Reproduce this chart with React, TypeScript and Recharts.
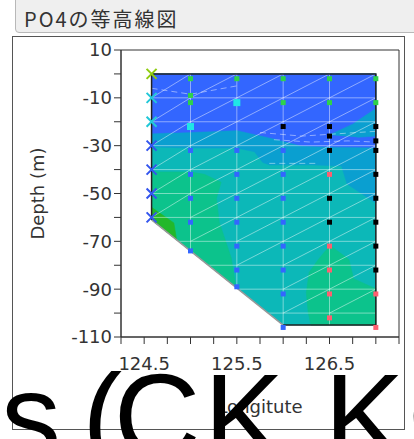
import React from 'react';
import { ScatterChart, Scatter, XAxis, YAxis, ReferenceArea } from 'recharts';

type Pt = { lon: number; depth: number };
const pts = (list: number[][]): Pt[] => list.map(([lon, depth]) => ({ lon, depth }));

// axes
const X_TICKS = [124.25, 124.5, 124.75, 125, 125.25, 125.5, 125.75, 126, 126.25, 126.5, 126.75, 127, 127.25];
const X_LABELED = [124.5, 125.5, 126.5];
const Y_TICKS = [10, 0, -10, -20, -30, -40, -50, -60, -70, -80, -90, -100, -110];
const Y_LABELED = [10, -10, -30, -50, -70, -90, -110];

// section geometry (stations + mesh rows)
const STATION_LON = [124.58, 125.0, 125.5, 126.0, 126.5, 127.0];
const MESH_DEPTHS = [0, -10, -20, -30, -40, -50, -60, -70, -80, -90, -100];
const SLOPE_TOP = [124.58, -61];
const SLOPE_FOOT = [126.0, -105];

const SECTION = pts([[124.58, 0], [127.0, 0], [127.0, -105], [126.0, -105], [124.58, -61], [124.58, 0]]);
const EDGE = pts([[124.58, -61], [124.58, 0], [127.0, 0], [127.0, -105], [126.0, -105]]);
const SLOPE = pts([SLOPE_TOP, SLOPE_FOOT]);

// contour bands
const MID_BLUE_ZONE = pts([
  [124.58, 0], [127.0, 0], [127.0, -54], [126.69, -46], [126.63, -38.5], [126.3, -38], [125.85, -38],
  [125.78, -37], [125.69, -32.5], [125.5, -31], [125.0, -31], [124.58, -30.5],
]);
const BLUE_ZONE = pts([
  [124.58, 0], [127.0, 0], [127.0, -30.7], [126.55, -30.5], [126.2, -30], [125.9, -27],
  [125.5, -23.5], [125.0, -24.3], [124.58, -24.8],
]);
const WEDGE_ZONE = pts([[126.5, -25.5], [126.75, -21], [127.0, -14.5], [127.0, -26], [126.8, -26.5]]);
const GREEN_ZONE = pts([
  [124.58, -41], [125.0, -41], [125.15, -42], [125.33, -45.3], [125.28, -52], [125.31, -62],
  [125.44, -77], [125.49, -89.2], [124.58, -61],
]);
const DARK_GREEN_ZONE = pts([[124.58, -55.8], [124.82, -62.3], [124.85, -69.4], [124.58, -61]]);
const BOTTOM_GREEN_ZONE = pts([
  [126.5, -71.5], [126.71, -77.6], [126.76, -85.6], [126.95, -89], [127.0, -89.7], [127.0, -105],
  [126.3, -105], [126.27, -99.7], [126.25, -91.4], [126.28, -83], [126.38, -77.6], [126.46, -73.8],
]);

const DASHED = [
  pts([[125.75, -24.5], [126.2, -26], [126.6, -25], [127.0, -24]]),
  pts([[125.9, -27.5], [126.3, -28.5], [126.7, -28], [127.0, -28.5]]),
  pts([[125.85, -37.4], [126.35, -37.4]]),
  pts([[124.58, -6], [125.0, -8.5], [125.5, -5]]),
];

// sampling points
const GREEN_SAMPLES = pts([
  [125.0, -2], [125.0, -9], [125.0, -12], [125.5, -2], [126.0, -2], [126.0, -12],
  [126.5, -2], [126.5, -12], [127.0, -2], [127.0, -12],
]);
const CYAN_SAMPLES = pts([[125.0, -22], [125.5, -12]]);
const BLUE_SAMPLES = pts([
  [125.0, -32], [125.0, -42], [125.0, -52], [125.0, -62], [125.0, -74],
  [125.5, -32], [125.5, -42], [125.5, -52], [125.5, -62], [125.5, -72], [125.5, -82], [125.5, -89],
  [126.0, -32], [126.0, -42], [126.0, -52], [126.0, -62], [126.0, -72], [126.0, -82], [126.0, -92], [126.0, -106],
]);
const BLACK_SAMPLES = pts([
  [126.0, -22], [126.5, -22], [126.5, -26], [126.5, -32], [126.5, -52], [126.5, -62],
  [127.0, -22], [127.0, -28], [127.0, -32], [127.0, -42], [127.0, -52], [127.0, -62], [127.0, -72], [127.0, -82],
]);
const RED_SAMPLES = pts([
  [126.5, -42], [126.5, -72], [126.5, -82], [126.5, -92], [126.5, -102], [127.0, -92], [127.0, -106],
]);
const SURFACE_CAST = pts([[124.58, 0]]);
const SHALLOW_CAST = pts([[124.58, -10], [124.58, -20]]);
const DEEP_CAST = pts([[124.58, -30], [124.58, -40], [124.58, -50], [124.58, -60]]);

const TEAL = '#0cb8b8';
const MID_BLUE = '#0a9fd0';
const BLUE = '#3366ff';
const GREEN = '#0cc38c';
const DARK_GREEN = '#22b82a';
const MESH = 'rgba(255,255,255,0.45)';
const FONT = '"DejaVu Sans", Verdana, sans-serif';

// sea floor along the slope, used to trim the mesh
const bottomAt = (lon: number) =>
  lon >= SLOPE_FOOT[0]
    ? SLOPE_FOOT[1]
    : SLOPE_TOP[1] + ((lon - SLOPE_TOP[0]) / (SLOPE_FOOT[0] - SLOPE_TOP[0])) * (SLOPE_FOOT[1] - SLOPE_TOP[1]);
const leftAt = (depth: number) =>
  depth >= SLOPE_TOP[1]
    ? SLOPE_TOP[0]
    : SLOPE_TOP[0] + ((depth - SLOPE_TOP[1]) / (SLOPE_FOOT[1] - SLOPE_TOP[1])) * (SLOPE_FOOT[0] - SLOPE_TOP[0]);

const meshLines: Pt[][] = [];
MESH_DEPTHS.slice(1).forEach((d) => meshLines.push(pts([[leftAt(d), d], [127.0, d]])));
STATION_LON.slice(1, -1).forEach((lon) => meshLines.push(pts([[lon, 0], [lon, bottomAt(lon)]])));
for (let i = 0; i < STATION_LON.length - 1; i++) {
  for (let j = 0; j < MESH_DEPTHS.length - 1; j++) {
    const x0 = STATION_LON[i];
    const lower = MESH_DEPTHS[j + 1];
    if (lower < bottomAt(x0)) continue;
    meshLines.push(pts([[x0, lower], [STATION_LON[i + 1], MESH_DEPTHS[j]]]));
  }
}

const noDot = () => <g />;
const squareDot = (size: number, color: string) => (p: any) =>
  <rect x={p.cx - size / 2} y={p.cy - size / 2} width={size} height={size} fill={color} />;
const crossDot = (color: string) => (p: any) => (
  <path
    d={`M${p.cx - 5},${p.cy - 5}L${p.cx + 5},${p.cy + 5}M${p.cx - 5},${p.cy + 5}L${p.cx + 5},${p.cy - 5}`}
    stroke={color}
    strokeWidth={2}
    fill="none"
  />
);

const zone = (key: string, data: Pt[], color: string) => (
  <Scatter key={key} data={data} fill={color} line={{ fill: color, stroke: color, strokeWidth: 0.6 }} shape={noDot} isAnimationActive={false} />
);
const polyline = (key: string, data: Pt[], stroke: string, width: number, dash?: string) => (
  <Scatter key={key} data={data} fill="none" line={{ stroke, strokeWidth: width, strokeDasharray: dash }} shape={noDot} isAnimationActive={false} />
);
const markers = (key: string, data: Pt[], shape: any) => (
  <Scatter key={key} data={data} shape={shape} isAnimationActive={false} />
);

const xLabel = (props: any) => {
  const vb = props.viewBox;
  return (
    <text x={vb.x + vb.width / 2} y={vb.y + 76} textAnchor="middle" fill="#333" fontSize={18} fontFamily={FONT}>
      Longitute
    </text>
  );
};
const yLabel = (props: any) => {
  const vb = props.viewBox;
  const cx = vb.x + 37;
  const cy = vb.y + vb.height / 2;
  return (
    <text x={cx} y={cy} transform={`rotate(-90, ${cx}, ${cy})`} textAnchor="middle" dominantBaseline="central" fill="#333" fontSize={18} fontFamily={FONT}>
      Depth (m)
    </text>
  );
};

export default function App() {
  return (
    <div style={{ position: 'fixed', left: 0, top: 0, width: 414, height: 439, overflow: 'hidden', background: '#fff' }}>
      <div style={{ position: 'absolute', left: 15, top: -6, width: 420, height: 39, background: '#efefef', border: '1px solid #b8b8b8', borderRadius: 4, boxSizing: 'border-box' }} />
      <div style={{ position: 'absolute', left: 24, top: 9, fontFamily: '"Noto Sans CJK JP", sans-serif', fontSize: 20, lineHeight: '20px', letterSpacing: 2, color: '#333', whiteSpace: 'nowrap' }}>
        PO4の等高線図
      </div>
      <div style={{ position: 'absolute', left: 12, top: 36, width: 393, height: 394, border: '1px solid #555', boxSizing: 'border-box' }} />
      <div style={{ position: 'absolute', left: 0, top: 0 }}>
        <ScatterChart width={414} height={439} margin={{ top: 50, right: 15, bottom: 22, left: 0 }}>
          <XAxis
            type="number"
            dataKey="lon"
            domain={[124.25, 127.25]}
            ticks={X_TICKS}
            interval={0}
            tickFormatter={(v: number) => (X_LABELED.includes(v) ? String(v) : '')}
            tick={{ fill: '#333', fontSize: 18, fontFamily: FONT }}
            tickLine={{ stroke: '#333' }}
            axisLine={{ stroke: '#333' }}
            tickSize={7}
            tickMargin={13}
            height={80}
            label={xLabel}
          />
          <YAxis
            type="number"
            dataKey="depth"
            domain={[-110, 10]}
            ticks={Y_TICKS}
            interval={0}
            tickFormatter={(v: number) => (Y_LABELED.includes(v) ? String(v) : '')}
            tick={{ fill: '#333', fontSize: 18, fontFamily: FONT }}
            tickLine={{ stroke: '#333' }}
            axisLine={{ stroke: '#333' }}
            tickSize={7}
            tickMargin={2}
            width={121}
            label={yLabel}
          />
          <ReferenceArea x1={124.25} x2={127.25} y1={-110} y2={10} fill="none" stroke="#333" strokeWidth={1} />
          {zone('section', SECTION, TEAL)}
          {zone('midblue', MID_BLUE_ZONE, MID_BLUE)}
          {zone('blue', BLUE_ZONE, BLUE)}
          {zone('wedge', WEDGE_ZONE, MID_BLUE)}
          {zone('green', GREEN_ZONE, GREEN)}
          {zone('darkgreen', DARK_GREEN_ZONE, DARK_GREEN)}
          {zone('bottomgreen', BOTTOM_GREEN_ZONE, GREEN)}
          {meshLines.map((seg, i) => polyline(`mesh-${i}`, seg, MESH, 1))}
          {DASHED.map((seg, i) => polyline(`dash-${i}`, seg, MESH, 1, '6 4'))}
          {polyline('slope', SLOPE, '#999', 1.5)}
          {polyline('edge', EDGE, '#222', 1.5)}
          {markers('green-s', GREEN_SAMPLES, squareDot(5, '#2ed24a'))}
          {markers('cyan-s', CYAN_SAMPLES, squareDot(7, '#1fe6e6'))}
          {markers('blue-s', BLUE_SAMPLES, squareDot(5, '#3366ff'))}
          {markers('black-s', BLACK_SAMPLES, squareDot(5, '#000'))}
          {markers('red-s', RED_SAMPLES, squareDot(5, '#ff5f70'))}
          {markers('surface-x', SURFACE_CAST, crossDot('#8fcc10'))}
          {markers('shallow-x', SHALLOW_CAST, crossDot('#22c8d8'))}
          {markers('deep-x', DEEP_CAST, crossDot('#3355ee'))}
        </ScatterChart>
      </div>
      <div style={{ position: 'absolute', left: 1, top: 356, fontFamily: '"Liberation Sans", Arial, sans-serif', fontSize: 120, lineHeight: '120px', letterSpacing: 3.5, color: '#000', whiteSpace: 'nowrap' }}>
        <span style={{ wordSpacing: -19 }}>s (</span>
        <span style={{ marginLeft: -12 }}>CK KO</span>
      </div>
    </div>
  );
}
